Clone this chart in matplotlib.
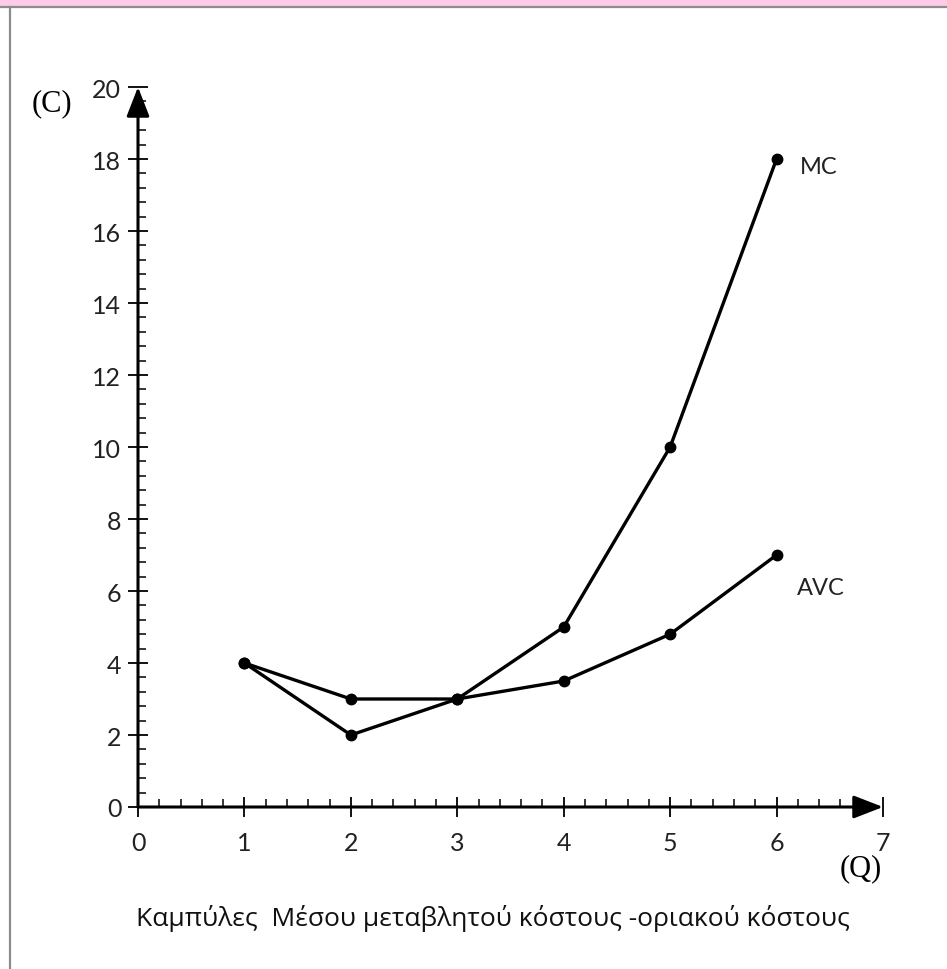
import numpy as np
import matplotlib
matplotlib.use("Agg")
import matplotlib.pyplot as plt
from matplotlib.ticker import MultipleLocator
from matplotlib.patches import Rectangle
from matplotlib.lines import Line2D

# data
q = [1, 2, 3, 4, 5, 6]
mc = [4, 2, 3, 5, 10, 18]
avc = [4, 3, 3, 3.5, 4.8, 7]
xticks = [0, 1, 2, 3, 4, 5, 6, 7]
yticks = [0, 2, 4, 6, 8, 10, 12, 14, 16, 18, 20]
caption = "Καμπύλες  Μέσου μεταβλητού κόστους -οριακού κόστους"

W, H = 947, 970
fig = plt.figure(figsize=(W/100, H/100), dpi=100)

# frame: pink band at top, gray rules
fig.patches.append(Rectangle((0, 1 - 7/H), 1, 7/H, transform=fig.transFigure,
                             color="#ffcce8", zorder=0))
fig.lines.append(Line2D([0, 1], [1 - 8/H, 1 - 8/H], transform=fig.transFigure,
                        color="#8c8c8c", lw=1.6))
fig.lines.append(Line2D([10/W, 10/W], [0, 1 - 8/H], transform=fig.transFigure,
                        color="#8c8c8c", lw=1.6))

ax = fig.add_axes([138/W, (H-808)/H, (883-138)/W, (808-88)/H])
ax.set_xlim(0, 7)
ax.set_ylim(0, 20)

ax.plot(q, mc, color="black", lw=2.4, marker="o", ms=7.5)
ax.plot(q, avc, color="black", lw=2.4, marker="o", ms=7.5)

for s in ["top", "right", "left", "bottom"]:
    ax.spines[s].set_visible(False)

# axes with arrows
arrow = dict(arrowstyle="-|>,head_length=0.9,head_width=0.35", lw=2.2,
             color="black", shrinkA=0, shrinkB=0, mutation_scale=20)
ax.annotate("", xy=(0, 1), xytext=(0, 0), xycoords="axes fraction",
            arrowprops=arrow, annotation_clip=False)
ax.annotate("", xy=(1, 0), xytext=(0, 0), xycoords="axes fraction",
            arrowprops=arrow, annotation_clip=False)

ax.set_xticks(xticks)
ax.set_yticks(yticks)
ax.xaxis.set_minor_locator(MultipleLocator(0.2))
ax.yaxis.set_minor_locator(MultipleLocator(0.4))
ax.tick_params(which="major", direction="inout", length=14, width=1.3,
               labelsize=18, colors="black")
ax.tick_params(which="minor", direction="in", length=6, width=1.1)
ax.tick_params(axis="x", which="major", pad=10)
ax.tick_params(axis="y", which="major", pad=5)
for lab in ax.get_xticklabels() + ax.get_yticklabels():
    lab.set_fontfamily("Lato")
    lab.set_color("#222222")

fig.text(52/W, 1 - 104/H, "(C)", fontsize=22, family="Liberation Serif",
         ha="center", va="center")
fig.text(861/W, 1 - 869/H, "(Q)", fontsize=22, family="Liberation Serif",
         ha="center", va="center")
ax.text(6.22, mc[-1] - 0.2, "MC", fontsize=17, family="Lato", va="center",
        color="#222222")
ax.text(6.19, 6.1, "AVC", fontsize=17, family="Lato", va="center",
        color="#222222")

fig.text(493/W, 1 - 919/H, caption, fontsize=19, family="Open Sans",
         ha="center", va="center", color="#111111")

fig.savefig("out.png", dpi=100)
